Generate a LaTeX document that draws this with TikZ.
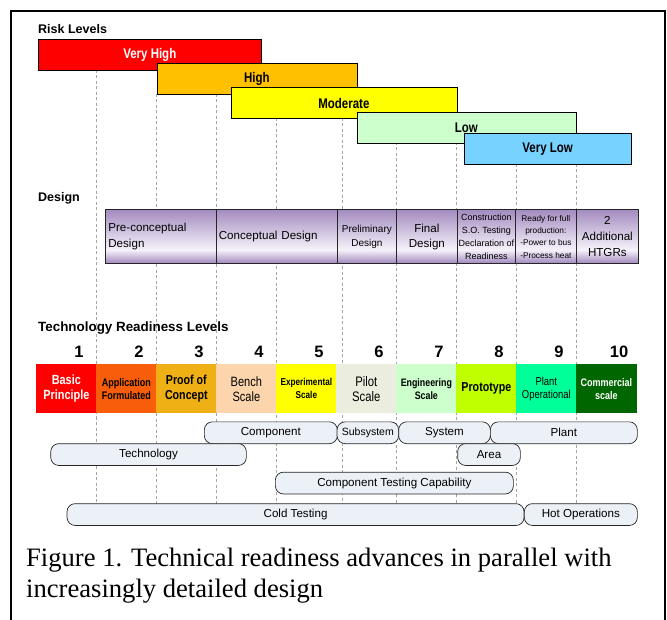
\documentclass[tikz,border=0pt]{standalone}
\usepackage{fontspec}
\setmainfont{Liberation Sans}
\newfontfamily\nar[FakeStretch=0.82]{Liberation Sans}
\newfontfamily\capfont{Liberation Serif}
\newcommand\fsz[2]{\fontsize{#1}{#2}\selectfont}
\definecolor{cVH}{RGB}{255,0,0}
\definecolor{cH}{RGB}{255,192,0}
\definecolor{cM}{RGB}{255,255,0}
\definecolor{cL}{RGB}{204,255,204}
\definecolor{cVL}{RGB}{120,210,255}
\definecolor{tA}{RGB}{255,0,0}
\definecolor{tB}{RGB}{248,94,10}
\definecolor{tC}{RGB}{238,176,20}
\definecolor{tD}{RGB}{252,213,172}
\definecolor{tE}{RGB}{255,255,0}
\definecolor{tF}{RGB}{235,237,222}
\definecolor{tG}{RGB}{204,255,204}
\definecolor{tH}{RGB}{192,255,0}
\definecolor{tI}{RGB}{0,255,153}
\definecolor{tJ}{RGB}{0,102,0}
\definecolor{purD}{RGB}{158,132,188}
\definecolor{purT}{RGB}{164,140,192}
\definecolor{purL}{RGB}{246,242,250}
\definecolor{pillfill}{RGB}{236,240,247}
\definecolor{guidegray}{RGB}{165,165,165}
\pgfdeclareverticalshading{designshade}{100bp}{color(0bp)=(purD); color(25bp)=(purD); color(38bp)=(purL); color(75bp)=(purT); color(100bp)=(purT)}
\begin{document}
\begin{tikzpicture}[x=1pt,y=-1pt,
  riskbar/.style={draw=black, line width=0.6pt, anchor=north west, inner sep=0pt, minimum height=31pt, font=\nar\bfseries\fsz{14}{16}},
  trl/.style={anchor=north west, minimum width=60.3pt, minimum height=49pt, inner sep=0pt, align=center},
  num/.style={font=\bfseries\fsz{16.5}{18}, inner sep=0pt},
  designcell/.style={draw=black!85, line width=0.7pt, anchor=north west, minimum height=54pt, inner sep=0pt, shade, shading=designshade},
  pill/.style={draw=black!85, fill=pillfill, rounded corners=8pt, line width=0.7pt, anchor=north west, minimum height=21.8pt, inner sep=0pt, font=\fsz{11.6}{13}},
  guide/.style={draw=guidegray, line width=0.6pt, dash pattern=on 3pt off 2.5pt},
  heading/.style={anchor=base west, inner sep=0pt, font=\bfseries\fsz{12.5}{14}}
]
\useasboundingbox (0,0) rectangle (667,620);
\fill[white] (0,0) rectangle (667,620);
% frame
\draw[line width=2pt] (11,622) -- (11,11.5) -- (665,11.5) -- (665,622);
% guide lines
\foreach \gx/\gy in {96/70,156.5/94,216/94,276/118,342/118,396/142,456.5/142,516/164,576/164}
  \draw[guide] (\gx,\gy) -- (\gx,505);
% headings
\node[heading] (hrisk) at (38,34) {Risk Levels};
\node[heading] (hdes) at (38,201.5) {Design};
\node[heading, font=\bfseries\fsz{13.4}{15}] (htrl) at (38,332) {Technology Readiness Levels};
% risk bars
\node[riskbar, fill=cVH, text=white, minimum width=223pt] (vh) at (38,39.3) {Very High};
\node[riskbar, fill=cH, minimum width=200pt] (hi) at (156.5,63.3) {High};
\node[riskbar, fill=cM, minimum width=226pt] (mod) at (230.6,87.5) {Moderate};
\node[riskbar, fill=cL, minimum width=219pt] (low) at (356.6,111.6) {Low};
\node[riskbar, fill=cVL, minimum width=167pt] (vlow) at (463.8,133.5) {Very Low};
% design cells
\node[designcell, minimum width=111pt, text width=105pt, align=left, font=\fsz{11.6}{16}] (d1) at (105,209.5) {Pre-conceptual\\Design};
\node[designcell, minimum width=121pt, text width=116pt, align=left, font=\fsz{11.6}{16}] (d2) at (216,209.5) {Conceptual Design};
\node[designcell, minimum width=59pt, align=center, font=\fsz{10}{14}] (d3) at (337,209.5) {Preliminary\\Design};
\node[designcell, minimum width=61pt, align=center, font=\fsz{11.6}{15.5}] (d4) at (396,209.5) {Final\\Design};
\node[designcell, minimum width=58pt, align=center, font=\fsz{9}{12.8}] (d5) at (457,209.5) {Construction\\S.O. Testing\\Declaration of\\Readiness};
\node[designcell, minimum width=61pt, align=center, font=\fsz{8.3}{12.3}] (d6) at (515,209.5) {Ready for full\\production:\\-Power to bus\\-Process heat};
\node[designcell, minimum width=62pt, align=center, font=\fsz{11.6}{16}] (d7) at (576,209.5) {2\\Additional\\HTGRs};
% TRL numbers
\node[num] (n1) at (79,351.5) {1};
\node[num] (n2) at (139,351.5) {2};
\node[num] (n3) at (199,351.5) {3};
\node[num] (n4) at (259,351.5) {4};
\node[num] (n5) at (319,351.5) {5};
\node[num] (n6) at (379,351.5) {6};
\node[num] (n7) at (439,351.5) {7};
\node[num] (n8) at (499,351.5) {8};
\node[num] (n9) at (559,351.5) {9};
\node[num] (n10) at (619,351.5) {10};
% TRL boxes
\node[trl, fill=tA, text=white, font=\nar\bfseries\fsz{13.3}{15}] (t1) at (36,364) {Basic\\Principle};
\node[trl, fill=tB, font=\nar\bfseries\fsz{11}{13}] (t2) at (96,364) {Application\\Formulated};
\node[trl, fill=tC, font=\nar\bfseries\fsz{13}{15}] (t3) at (156,364) {Proof of\\Concept};
\node[trl, fill=tD, font=\nar\fsz{13.5}{15}] (t4) at (216,364) {Bench\\Scale};
\node[trl, fill=tE, font=\nar\bfseries\fsz{10}{13}] (t5) at (276,364) {Experimental\\Scale};
\node[trl, fill=tF, font=\nar\fsz{13.8}{15}] (t6) at (336,364) {Pilot\\Scale};
\node[trl, fill=tG, font=\nar\bfseries\fsz{10.8}{13}] (t7) at (396,364) {Engineering\\Scale};
\node[trl, fill=tH, font=\nar\bfseries\fsz{13}{15}] (t8) at (456,364) {Prototype};
\node[trl, fill=tI, font=\nar\fsz{11.5}{13}] (t9) at (516,364) {Plant\\Operational};
\node[trl, fill=tJ, text=white, font=\nar\bfseries\fsz{11}{13}] (t10) at (576,364) {Commercial\\scale};
% pills
\node[pill, minimum width=133pt] (pcomp) at (204,421.5) {Component};
\node[pill, minimum width=61.6pt, font=\fsz{10.5}{12}] (psub) at (336.7,421.5) {Subsystem};
\node[pill, minimum width=91.7pt] (psys) at (398.3,421.5) {System};
\node[pill, minimum width=147pt] (pplant) at (490,421.5) {Plant};
\node[pill, minimum width=195.6pt] (ptech) at (50.4,443.3) {Technology};
\node[pill, minimum width=62.7pt] (parea) at (457.3,443.3) {Area};
\node[pill, minimum width=238pt] (pctc) at (275,471.8) {Component Testing Capability};
\node[pill, minimum width=457pt] (pcold) at (66.7,503.3) {Cold Testing};
\node[pill, minimum width=113pt] (phot) at (524,503.3) {Hot Operations};
% caption
\node[anchor=base west, inner sep=0pt, font=\capfont\fsz{26.6}{31}] (cap1) at (26,566) {Figure 1. Technical readiness advances in parallel with};
\node[anchor=base west, inner sep=0pt, font=\capfont\fsz{26.6}{31}] (cap2) at (26,597) {increasingly detailed design};
\end{tikzpicture}
\end{document}
